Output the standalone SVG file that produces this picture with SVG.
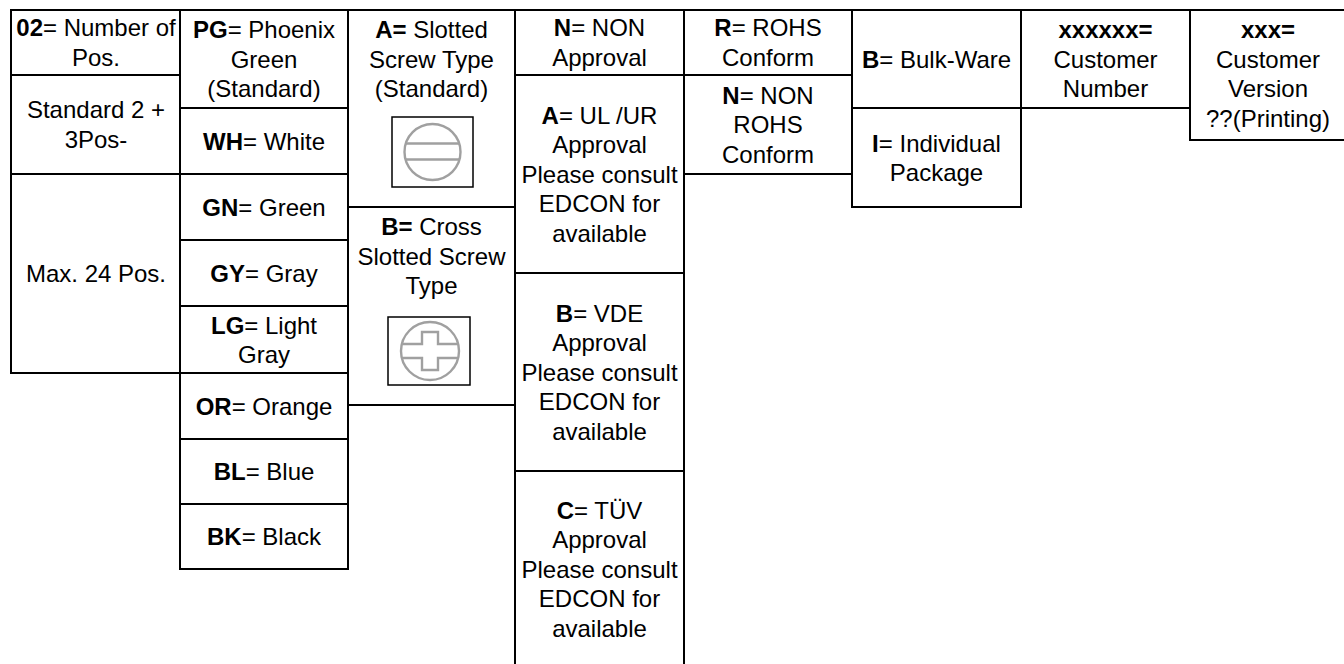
<svg xmlns="http://www.w3.org/2000/svg" width="1344" height="664" viewBox="0 0 1344 664">
<style>
.c{fill:#fff;stroke:#000;stroke-width:2}
text{font-family:"Liberation Sans",Arial,sans-serif;font-size:24px;fill:#000;text-anchor:middle}
.b{font-weight:bold}
.ib{fill:#fff;stroke:#000;stroke-width:1.5}
.ic{fill:none;stroke:#a0a0a0;stroke-width:2.4}
</style>
<rect width="1344" height="664" fill="#fff"/>
<g id="connectors"/>
<!-- column 1 -->
<g id="c1r1"><rect class="c" x="11" y="10" width="169" height="65"/><text x="96" y="36"><tspan class="b">02</tspan>= Number of</text><text x="96" y="66">Pos.</text></g>
<g id="c1r2"><rect class="c" x="11" y="75" width="169" height="99"/><text x="96" y="118">Standard 2 +</text><text x="96" y="148">3Pos-</text></g>
<g id="c1r3"><rect class="c" x="11" y="174" width="169" height="199"/><text x="96" y="282">Max. 24 Pos.</text></g>
<!-- column 2 -->
<g id="pg"><rect class="c" x="180" y="10" width="168" height="98"/><text x="264" y="38"><tspan class="b">PG</tspan>= Phoenix</text><text x="264" y="67.5">Green</text><text x="264" y="97">(Standard)</text></g>
<g id="wh"><rect class="c" x="180" y="108" width="168" height="66"/><text x="264" y="149.5"><tspan class="b">WH</tspan>= White</text></g>
<g id="gn"><rect class="c" x="180" y="174" width="168" height="66"/><text x="264" y="215.5"><tspan class="b">GN</tspan>= Green</text></g>
<g id="gy"><rect class="c" x="180" y="240" width="168" height="66"/><text x="264" y="281.5"><tspan class="b">GY</tspan>= Gray</text></g>
<g id="lg"><rect class="c" x="180" y="306" width="168" height="67"/><text x="264" y="333.5"><tspan class="b">LG</tspan>= Light</text><text x="264" y="363">Gray</text></g>
<g id="or"><rect class="c" x="180" y="373" width="168" height="66"/><text x="264" y="414.5"><tspan class="b">OR</tspan>= Orange</text></g>
<g id="bl"><rect class="c" x="180" y="439" width="168" height="65"/><text x="264" y="480"><tspan class="b">BL</tspan>= Blue</text></g>
<g id="bk"><rect class="c" x="180" y="504" width="168" height="65"/><text x="264" y="545"><tspan class="b">BK</tspan>= Black</text></g>
<!-- column 3 -->
<g id="screwA"><rect class="c" x="348" y="10" width="167" height="197"/>
<text x="431.5" y="38"><tspan class="b">A=</tspan> Slotted</text><text x="431.5" y="67.5">Screw Type</text><text x="431.5" y="97">(Standard)</text>
<rect class="ib" x="392" y="117" width="81" height="70"/>
<circle class="ic" cx="432.5" cy="152" r="28"/>
<path class="ic" d="M406,143.5H459M406,159.5H459"/></g>
<g id="screwB"><rect class="c" x="348" y="207" width="167" height="198"/>
<text x="431.5" y="235"><tspan class="b">B=</tspan> Cross</text><text x="431.5" y="264.5">Slotted Screw</text><text x="431.5" y="294">Type</text>
<rect class="ib" x="388" y="317" width="82" height="68"/>
<circle class="ic" cx="430" cy="351" r="29"/>
<path class="ic" d="M401.9,344H422V332H438V344H458.1M401.9,358H422V370H438V358H458.1"/></g>
<!-- column 4 -->
<g id="appN"><rect class="c" x="515" y="10" width="169" height="65"/><text x="599.5" y="36"><tspan class="b">N</tspan>= NON</text><text x="599.5" y="66">Approval</text></g>
<g id="appA"><rect class="c" x="515" y="75" width="169" height="198"/><text x="599.5" y="123.5"><tspan class="b">A</tspan>= UL /UR</text><text x="599.5" y="153">Approval</text><text x="599.5" y="182.5">Please consult</text><text x="599.5" y="212">EDCON for</text><text x="599.5" y="241.5">available</text></g>
<g id="appB"><rect class="c" x="515" y="273" width="169" height="198"/><text x="599.5" y="321.5"><tspan class="b">B</tspan>= VDE</text><text x="599.5" y="351">Approval</text><text x="599.5" y="380.5">Please consult</text><text x="599.5" y="410">EDCON for</text><text x="599.5" y="439.5">available</text></g>
<g id="appC"><rect class="c" x="515" y="471" width="169" height="200"/><text x="599.5" y="518.5"><tspan class="b">C</tspan>= TÜV</text><text x="599.5" y="548">Approval</text><text x="599.5" y="577.5">Please consult</text><text x="599.5" y="607">EDCON for</text><text x="599.5" y="636.5">available</text></g>
<!-- column 5 -->
<g id="rohsR"><rect class="c" x="684" y="10" width="168" height="65"/><text x="768" y="36"><tspan class="b">R</tspan>= ROHS</text><text x="768" y="66">Conform</text></g>
<g id="rohsN"><rect class="c" x="684" y="75" width="168" height="99"/><text x="768" y="103.5"><tspan class="b">N</tspan>= NON</text><text x="768" y="133">ROHS</text><text x="768" y="162.5">Conform</text></g>
<!-- column 6 -->
<g id="packB"><rect class="c" x="852" y="10" width="169" height="98"/><text x="936.5" y="67.5"><tspan class="b">B</tspan>= Bulk-Ware</text></g>
<g id="packI"><rect class="c" x="852" y="108" width="169" height="99"/><text x="936.5" y="151.5"><tspan class="b">I</tspan>= Individual</text><text x="936.5" y="181">Package</text></g>
<!-- column 7 -->
<g id="custNo"><rect class="c" x="1021" y="10" width="169" height="98"/><text x="1105.5" y="38" class="b">xxxxxx=</text><text x="1105.5" y="67.5">Customer</text><text x="1105.5" y="97">Number</text></g>
<!-- column 8 -->
<g id="custVer"><rect class="c" x="1190" y="10" width="168" height="130"/><text x="1268" y="38" class="b">xxx=</text><text x="1268" y="67.5">Customer</text><text x="1268" y="97">Version</text><text x="1268" y="126.5">??(Printing)</text></g>
</svg>
